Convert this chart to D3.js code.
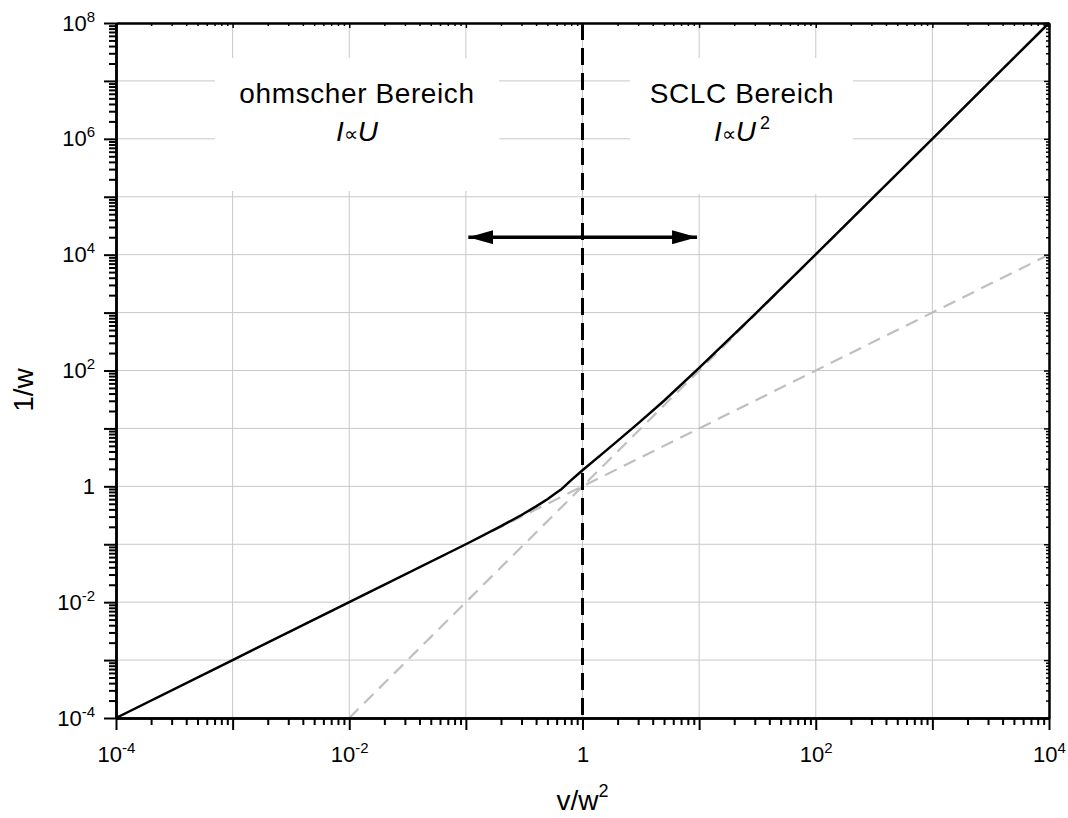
<!DOCTYPE html>
<html lang="de">
<head>
  <meta charset="UTF-8">
  <title>Ohmscher und SCLC Bereich</title>
  <script src="https://d3js.org/d3.v7.min.js"></script>
  <style>
    body { margin: 0; background: #fff; }
    svg text { font-family: "Liberation Sans", Arial, sans-serif; fill: #000; }
  </style>
</head>
<body>
  <div id="chart"></div>
  <script>
    // log-log axes
    const xDomain = [1e-4, 1e4];
    const yDomain = [1e-4, 1e8];

    // black curve
    const curveX = [1e-4, 1e-3, 1e-2, 0.1, 0.2, 0.3, 0.4, 0.5, 0.6, 0.65, 0.8, 1, 1.5, 2, 3, 5, 10, 30, 100, 1000, 1e4];
    const curveY = [1e-4, 1e-3, 1e-2, 0.1, 0.205, 0.32, 0.45, 0.6, 0.78, 0.87, 1.28, 1.9, 3.75, 6.1, 12.2, 30, 111, 930, 10100, 1.001e6, 1e8];

    // grey dashed asymptotes
    const ohmX = [1e-4, 1e4];
    const ohmY = [1e-4, 1e4];
    const sclcX = [1e-2, 1e4];
    const sclcY = [1e-4, 1e8];

    // vertical dashed line at v/w^2 = 1 and the double arrow
    const borderX = 1;
    const arrowX = [0.105, 9.6];
    const arrowY = 2e4;

    // labelled decades
    const xLabelExp = [-4, -2, 0, 2, 4];
    const yLabelExp = [-4, -2, 0, 2, 4, 6, 8];

    const width = 1068, height = 818;
    const margin = { top: 23, right: 19, bottom: 100, left: 116 };
    const innerW = width - margin.left - margin.right;
    const innerH = height - margin.top - margin.bottom;

    const x = d3.scaleLog().domain(xDomain).range([0, innerW]);
    const y = d3.scaleLog().domain(yDomain).range([innerH, 0]);

    // tick positions: decades and 2..9 in between
    function decades(dom) {
      const out = [];
      for (let e = Math.round(Math.log10(dom[0])); e <= Math.round(Math.log10(dom[1])); e++) out.push(Math.pow(10, e));
      return out;
    }
    function minors(dom) {
      const out = [];
      decades(dom).slice(0, -1).forEach(d => { for (let k = 2; k <= 9; k++) out.push(d * k); });
      return out;
    }
    const xMajor = decades(xDomain), yMajor = decades(yDomain);
    const xMinor = minors(xDomain), yMinor = minors(yDomain);

    const svg = d3.select("#chart").append("svg")
      .attr("width", width)
      .attr("height", height);

    const g = svg.append("g").attr("transform", `translate(${margin.left},${margin.top})`);

    // grid
    g.append("g").selectAll("line").data(xMajor).join("line")
      .attr("x1", d => x(d)).attr("x2", d => x(d))
      .attr("y1", 0).attr("y2", innerH)
      .attr("stroke", "#c8c8c8").attr("stroke-width", 1);
    g.append("g").selectAll("line").data(yMajor).join("line")
      .attr("y1", d => y(d)).attr("y2", d => y(d))
      .attr("x1", 0).attr("x2", innerW)
      .attr("stroke", "#c8c8c8").attr("stroke-width", 1);

    // white boxes behind the region labels
    g.append("rect").attr("x", 99).attr("y", 35).attr("width", 284).attr("height", 133).attr("fill", "#fff");
    g.append("rect").attr("x", 514).attr("y", 35).attr("width", 223).attr("height", 136).attr("fill", "#fff");

    const line = d3.line().x(d => x(d[0])).y(d => y(d[1]));

    g.append("path")
      .attr("d", line(d3.zip(ohmX, ohmY)))
      .attr("fill", "none").attr("stroke", "#bfbfbf").attr("stroke-width", 2.2)
      .attr("stroke-dasharray", "13,8");
    g.append("path")
      .attr("d", line(d3.zip(sclcX, sclcY)))
      .attr("fill", "none").attr("stroke", "#bfbfbf").attr("stroke-width", 2.2)
      .attr("stroke-dasharray", "13,8");

    g.append("path")
      .attr("d", line(d3.zip(curveX, curveY)))
      .attr("fill", "none").attr("stroke", "#000").attr("stroke-width", 2.5)
      .attr("stroke-linejoin", "round");

    g.append("line")
      .attr("x1", x(borderX)).attr("x2", x(borderX))
      .attr("y1", 0).attr("y2", innerH)
      .attr("stroke", "#000").attr("stroke-width", 3)
      .attr("stroke-dasharray", "17,8");

    // double arrow
    const defs = svg.append("defs");
    defs.append("marker")
      .attr("id", "head")
      .attr("markerUnits", "userSpaceOnUse")
      .attr("viewBox", "0 0 25 14")
      .attr("refX", 25).attr("refY", 7)
      .attr("markerWidth", 25).attr("markerHeight", 14)
      .attr("orient", "auto-start-reverse")
      .append("path").attr("d", "M0,0 L25,7 L0,14 Z").attr("fill", "#000");
    g.append("line")
      .attr("x1", x(arrowX[0])).attr("x2", x(arrowX[1]))
      .attr("y1", y(arrowY)).attr("y2", y(arrowY))
      .attr("stroke", "#000").attr("stroke-width", 3.5)
      .attr("marker-start", "url(#head)").attr("marker-end", "url(#head)");

    // region labels
    function regionLabel(cx, power) {
      g.append("text")
        .attr("x", cx).attr("y", 80)
        .attr("text-anchor", "middle")
        .style("font-size", "28px").attr("letter-spacing", 0.6)
        .text(power === 1 ? "ohmscher Bereich" : "SCLC Bereich");
      const t = g.append("text")
        .attr("x", cx).attr("y", 118)
        .attr("text-anchor", "middle")
        .style("font-size", "28px");
      t.append("tspan").attr("font-style", "italic").text("I");
      t.append("tspan").style("font-size", "20px").text("\u221D");
      t.append("tspan").attr("font-style", "italic").text("U");
      if (power === 2) {
        t.append("tspan").style("font-size", "18px").attr("dx", 4).attr("dy", -12).text("2");
      }
    }
    regionLabel(241, 1);
    regionLabel(626, 2);

    // tick labels: 10 with exponent as superscript
    function expLabel(sel) {
      sel.each(function(d) {
        const e = Math.round(Math.log10(d));
        const t = d3.select(this);
        t.text(null).style("font-size", "22px").attr("fill", "#000");
        if (e === 0) { t.text("1"); return; }
        t.append("tspan").text("10");
        t.append("tspan").style("font-size", "15px").attr("dy", -9).text(String(e));
      });
    }
    const fmtNone = () => "";

    // left axis
    const gl = g.append("g").call(d3.axisLeft(y).tickValues(yMinor).tickSize(7).tickSizeOuter(0).tickFormat(fmtNone));
    const glM = g.append("g").call(d3.axisLeft(y)
      .tickValues(yMajor).tickSize(12).tickSizeOuter(0).tickPadding(9)
      .tickFormat(d => yLabelExp.includes(Math.round(Math.log10(d))) ? "x" : ""));
    glM.selectAll(".tick text").filter(d => yLabelExp.includes(Math.round(Math.log10(d)))).call(expLabel);

    // bottom axis
    const gb = g.append("g").attr("transform", `translate(0,${innerH})`)
      .call(d3.axisBottom(x).tickValues(xMinor).tickSize(7).tickSizeOuter(0).tickFormat(fmtNone));
    const gbM = g.append("g").attr("transform", `translate(0,${innerH})`)
      .call(d3.axisBottom(x)
        .tickValues(xMajor).tickSize(12).tickSizeOuter(0).tickPadding(16)
        .tickFormat(d => xLabelExp.includes(Math.round(Math.log10(d))) ? "x" : ""));
    gbM.selectAll(".tick text").filter(d => xLabelExp.includes(Math.round(Math.log10(d)))).call(expLabel);

    // top and right frame with inward ticks
    const gt = g.append("g").call(d3.axisBottom(x).tickValues(xMinor).tickSize(3).tickSizeOuter(0).tickFormat(fmtNone));
    const gtM = g.append("g").call(d3.axisBottom(x).tickValues(xMajor).tickSize(5).tickSizeOuter(0).tickFormat(fmtNone));
    const gr = g.append("g").attr("transform", `translate(${innerW},0)`)
      .call(d3.axisLeft(y).tickValues(yMinor).tickSize(3).tickSizeOuter(0).tickFormat(fmtNone));
    const grM = g.append("g").attr("transform", `translate(${innerW},0)`)
      .call(d3.axisLeft(y).tickValues(yMajor).tickSize(5).tickSizeOuter(0).tickFormat(fmtNone));

    [gl, glM, gb, gbM].forEach(a => {
      a.select(".domain").attr("stroke", "#000").attr("stroke-width", 2.5);
      a.selectAll(".tick line").attr("stroke", "#000").attr("stroke-width", 2);
    });
    [gt, gtM, gr, grM].forEach(a => {
      a.select(".domain").attr("stroke", "#000").attr("stroke-width", 2);
      a.selectAll(".tick line").attr("stroke", "#000").attr("stroke-width", 1.5);
    });

    // axis titles
    const xt = svg.append("text")
      .attr("x", margin.left + innerW / 2).attr("y", 810)
      .attr("text-anchor", "middle").style("font-size", "28px");
    xt.append("tspan").text("v/w");
    xt.append("tspan").style("font-size", "18px").attr("dy", -13).text("2");

    svg.append("text")
      .attr("transform", "translate(33,390) rotate(-90)")
      .attr("text-anchor", "middle").style("font-size", "28px")
      .text("1/w");
  </script>
</body>
</html>
